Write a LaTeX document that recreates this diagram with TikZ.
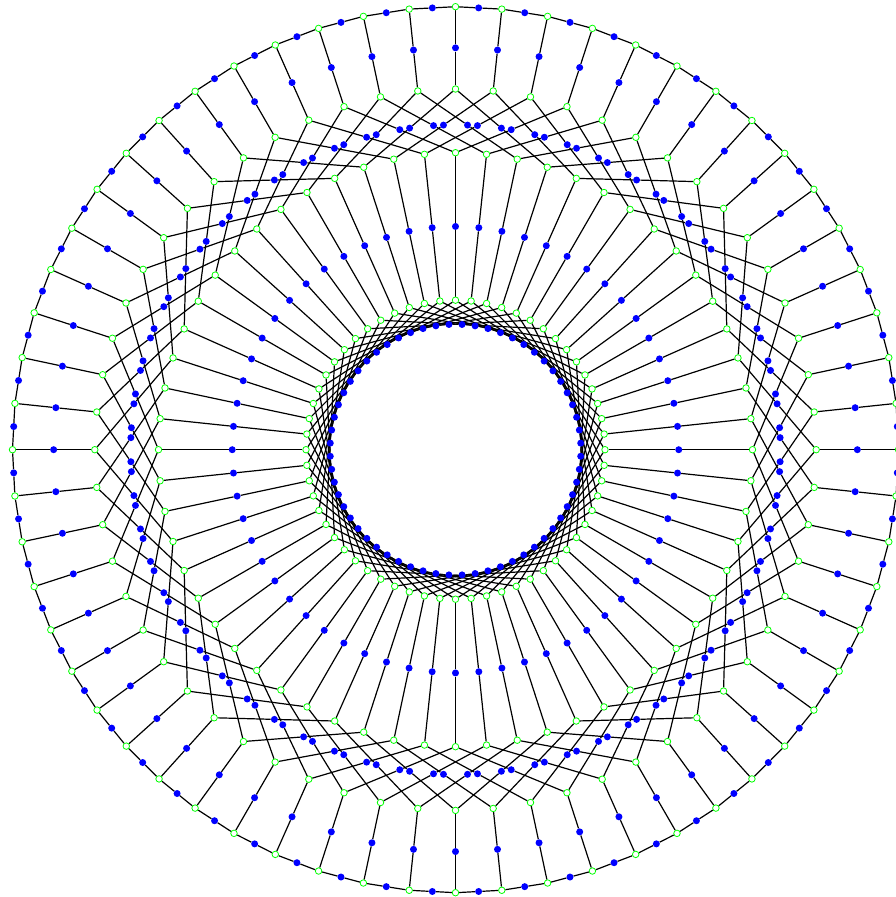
\documentclass[tikz,border=0pt]{standalone}
\usepackage{tikz}
\usetikzlibrary{calc,backgrounds}
\tikzset{
	vtx/.style={circle, draw=green, fill=white, line width=0.8pt, inner sep=0pt, minimum size=6.5pt},
	sub/.style={circle, fill=blue, inner sep=0pt, minimum size=7pt},
	link/.style={line width=1.2pt, black}
}
\begin{document}
\begin{tikzpicture}[x=1pt, y=1pt]
	\def\ra{443}   % outer cycle
	\def\rb{360.7} % inner ends of the spokes
	\def\rc{297}   % inner side of the crossing band
	\def\rd{149.5} % star ring
	\useasboundingbox (-455.5,-447.3) rectangle (439.5,449.7);
	% green vertices, 60 per ring
	\foreach \i in {0,...,59} {
		\node[vtx] (a\i) at (6*\i:\ra) {};
		\node[vtx] (b\i) at (6*\i:\rb) {};
		\node[vtx] (c\i) at (6*\i:\rc) {};
		\node[vtx] (d\i) at (6*\i:\rd) {};
	}
	% blue vertices halfway along every edge, edges drawn behind
	\foreach \i in {0,...,59} {
		\pgfmathtruncatemacro{\inext}{mod(\i+1,60)}
		\pgfmathtruncatemacro{\iup}{mod(\i+3,60)}
		\pgfmathtruncatemacro{\idown}{mod(\i+57,60)}
		\pgfmathtruncatemacro{\istar}{mod(\i+11,60)}
		\node[sub] (o\i) at ($(a\i)!.5!(a\inext)$) {};
		\node[sub] (s\i) at ($(a\i)!.5!(b\i)$) {};
		\node[sub] (p\i) at ($(b\i)!.5!(c\iup)$) {};
		\node[sub] (q\i) at ($(b\i)!.5!(c\idown)$) {};
		\node[sub] (r\i) at ($(c\i)!.5!(d\i)$) {};
		\node[sub] (k\i) at ($(d\i)!.5!(d\istar)$) {};
		\begin{scope}[on background layer]
			\draw[link] (a\i) -- (o\i) -- (a\inext);
			\draw[link] (a\i) -- (s\i) -- (b\i);
			\draw[link] (b\i) -- (p\i) -- (c\iup);
			\draw[link] (b\i) -- (q\i) -- (c\idown);
			\draw[link] (c\i) -- (r\i) -- (d\i);
			\draw[link] (d\i) -- (k\i) -- (d\istar);
		\end{scope}
	}
\end{tikzpicture}
\end{document}
